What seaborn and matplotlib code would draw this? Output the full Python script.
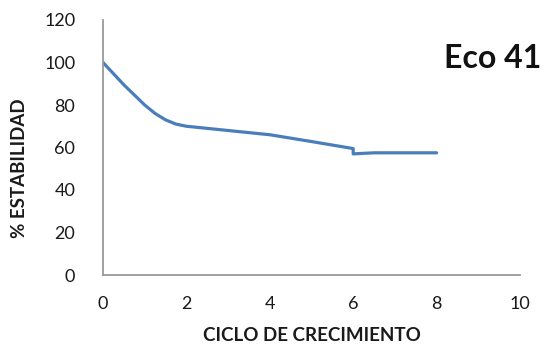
import matplotlib
matplotlib.use("Agg")
import matplotlib.pyplot as plt
import seaborn as sns
import pandas as pd

# Stability readings per growth cycle
ciclo = [0, 0.5, 1, 1.25, 1.5, 1.75, 2, 3, 4, 5, 6, 6, 6.5, 8]
estabilidad = [100, 89.5, 80, 76, 73, 71, 70, 68, 66, 62.8, 59.5, 57, 57.5, 57.5]

x_ticks = [0, 2, 4, 6, 8, 10]
y_ticks = [0, 20, 40, 60, 80, 100, 120]

sns.set_style("white")
plt.rcParams["font.family"] = ["Lato", "DejaVu Sans"]

df = pd.DataFrame({"ciclo": ciclo, "estabilidad": estabilidad})

fig = plt.figure(figsize=(5.47, 3.49), dpi=100)
ax = fig.add_axes([103 / 547, 1 - 275 / 349, 417 / 547, 255 / 349])

sns.lineplot(data=df, x="ciclo", y="estabilidad", ax=ax, estimator=None,
             sort=False, color="#4a7ebb", linewidth=2.3)

ax.set_xlim(0, 10)
ax.set_ylim(0, 120)
ax.set_xticks(x_ticks)
ax.set_yticks(y_ticks)
ax.tick_params(axis="both", length=0, labelsize=13, colors="#1a1a1a")
ax.tick_params(axis="y", pad=20)
ax.tick_params(axis="x", pad=15)

for side in ("top", "right"):
    ax.spines[side].set_visible(False)
for side in ("left", "bottom"):
    ax.spines[side].set_color("#9a9a9a")
    ax.spines[side].set_linewidth(1.3)

ax.set_xlabel("CICLO DE CRECIMIENTO", fontsize=13.5, fontweight="bold",
              color="#1a1a1a")
ax.set_ylabel("% ESTABILIDAD", fontsize=13.5, fontweight="bold",
              color="#1a1a1a")
ax.xaxis.set_label_coords(0.5, -0.205)
ax.yaxis.set_label_coords(-0.18, 0.42)

fig.text(493 / 547, 1 - 58 / 349, "Eco 41", fontsize=23, fontweight="bold",
         color="#111111", ha="center", va="center")

fig.savefig("out.png", dpi=100)
